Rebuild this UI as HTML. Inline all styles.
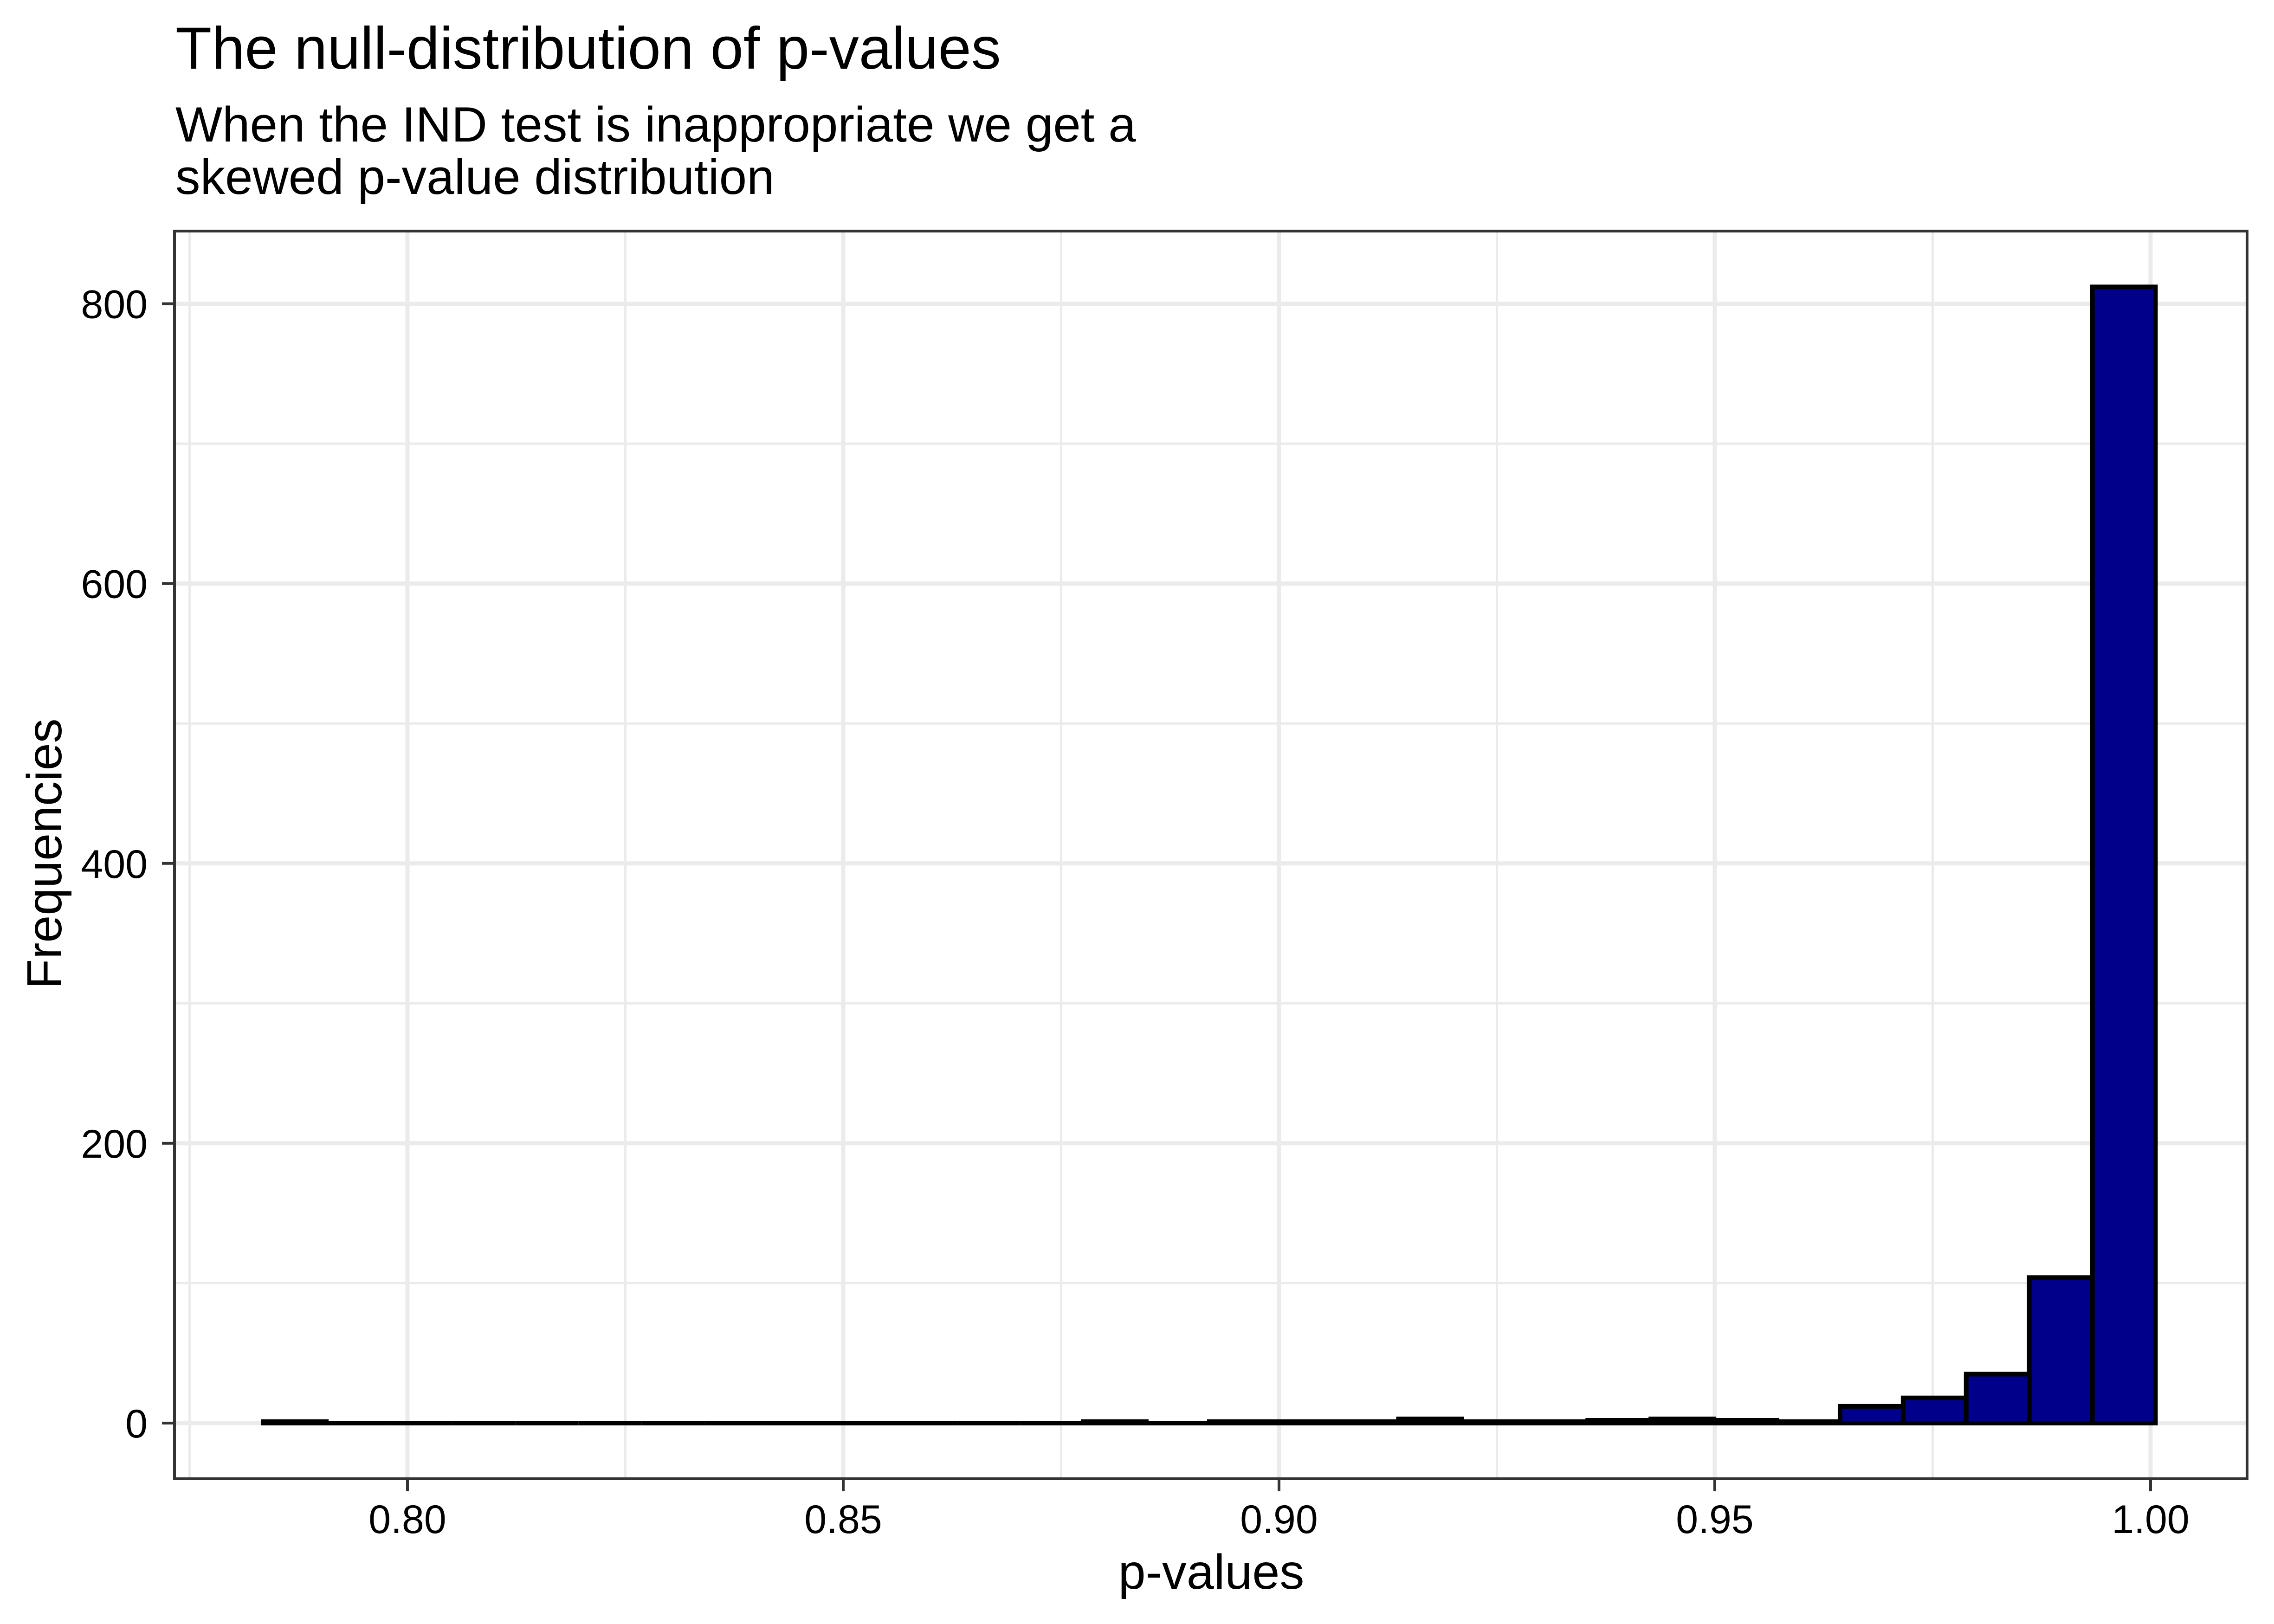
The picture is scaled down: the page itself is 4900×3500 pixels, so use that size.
<!DOCTYPE html>
<html><head><meta charset="utf-8"><style>
html,body{margin:0;padding:0;background:#fff;}
svg{display:block;font-family:"Liberation Sans",Arial,sans-serif;}
</style></head><body>
<svg id="chart" width="4900" height="3500" viewBox="0 0 4900 3500">
<rect x="0" y="0" width="4900" height="3500" fill="#fff"/>
<text x="378" y="148" font-size="128" fill="#000">The null-distribution of p-values</text>
<text x="378" y="305" font-size="107" fill="#000">When the IND test is inappropriate we get a</text>
<text x="378" y="418" font-size="107" fill="#000">skewed p-value distribution</text>
<g id="grid"></g>
<g id="bars"></g>
<rect x="376" y="498" width="4466" height="2689" fill="none" stroke="#333" stroke-width="6"/>
<g id="axes"></g>
<text x="2610" y="3424" font-size="106" text-anchor="middle" fill="#000">p-values</text>
<text transform="translate(132,1840) rotate(-90)" font-size="106" text-anchor="middle" fill="#000">Frequencies</text>
</svg>
<script>
const binStart = 0.78345;
const binWidth = 0.007237;
const counts = [1,0,0,0,0,0,0,0,0,0,0,0,0,1,0,1,1,1,3,1,1,2,3,2,1,12,18,35,104,812];
const xTicks = [0.80,0.85,0.90,0.95,1.00];
const xTickLabels = ["0.80","0.85","0.90","0.95","1.00"];
const xMinor = [0.775,0.825,0.875,0.925,0.975];
const yTicks = [0,200,400,600,800];
const yTickLabels = ["0","200","400","600","800"];
const yMinor = [100,300,500,700];

const NS = "http://www.w3.org/2000/svg";
const L = 376, R = 4842, T = 498, B = 3187;
function xs(v){ return 878 + (v - 0.80) * 18780; }
function ys(v){ return 3067 - v * 3.0155; }
function mk(tag, attrs, parent){
  const e = document.createElementNS(NS, tag);
  for (const k in attrs) e.setAttribute(k, attrs[k]);
  parent.appendChild(e);
  return e;
}
const grid = document.getElementById('grid');
const bars = document.getElementById('bars');
const axes = document.getElementById('axes');

yMinor.forEach(v => {
  const l = mk('line', {x1:L, x2:R, y1:ys(v), y2:ys(v), stroke:'#ebebeb', 'stroke-width':5}, grid);
  
  
});
xMinor.forEach(v => {
  const l = mk('line', {x1:xs(v), x2:xs(v), y1:T, y2:B, stroke:'#ebebeb', 'stroke-width':5}, grid);
  
  
});
yTicks.forEach(v => {
  const l = mk('line', {x1:L, x2:R, y1:ys(v), y2:ys(v), stroke:'#ebebeb', 'stroke-width':9}, grid);
  
  
});
xTicks.forEach(v => {
  const l = mk('line', {x1:xs(v), x2:xs(v), y1:T, y2:B, stroke:'#ebebeb', 'stroke-width':9}, grid);
  
  
});

counts.forEach((c, i) => {
  const x0 = xs(binStart + i * binWidth), x1 = xs(binStart + (i + 1) * binWidth);
  const y0 = ys(0), y1 = ys(c);
  const d = 'M' + x0 + ',' + y0 + ' L' + x0 + ',' + y1 + ' L' + x1 + ',' + y1 + ' L' + x1 + ',' + y0 + ' Z';
  const p = mk('path', {d:d, fill:'#00008b', stroke:'#000', 'stroke-width':10, 'stroke-linejoin':'miter'}, bars);
  
  
});

xTicks.forEach((v, i) => {
  const t = mk('line', {x1:xs(v), x2:xs(v), y1:B, y2:B + 27, stroke:'#333', 'stroke-width':6}, axes);
  
  
  const lb = mk('text', {x:xs(v), y:3304, 'font-size':86, 'text-anchor':'middle', fill:'#000'}, axes);
  lb.textContent = xTickLabels[i];
  
  
});
yTicks.forEach((v, i) => {
  const t = mk('line', {x1:L - 27, x2:L, y1:ys(v), y2:ys(v), stroke:'#333', 'stroke-width':6}, axes);
  
  
  const lb = mk('text', {x:318, y:ys(v) + 31, 'font-size':86, 'text-anchor':'end', fill:'#000'}, axes);
  lb.textContent = yTickLabels[i];
  
  
});
</script>
</body></html>
